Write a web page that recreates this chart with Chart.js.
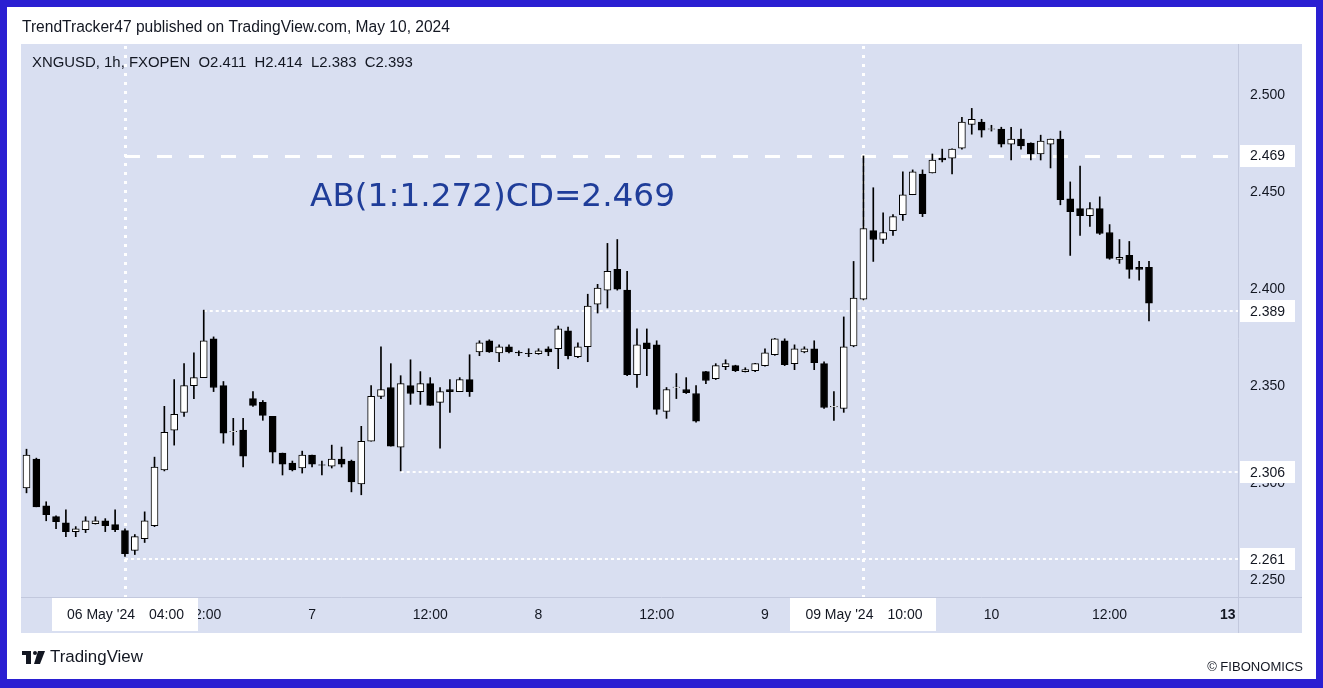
<!DOCTYPE html>
<html>
<head>
<meta charset="utf-8">
<title>XNGUSD 1h</title>
<script src="https://cdn.jsdelivr.net/npm/chart.js@4.4.1/dist/chart.umd.min.js"></script>
<style>
  html, body { margin: 0; padding: 0; background: #2a1fd2; }
  #wrap { width: 1323px; height: 688px; }
</style>
</head>
<body>
<div id="wrap"><canvas id="chart" width="1323" height="688"></canvas></div>
<script>
// hourly candles (index 0 = first visible bar)
var opens = [
  2.2976, 2.3125, 2.2884, 2.2828, 2.2797, 2.2751, 2.2761, 2.2792, 2.2807, 2.2787,
  2.2756, 2.2654, 2.2715, 2.2782, 2.3069, 2.3274, 2.3366, 2.3504, 2.3545, 2.3745,
  2.3504, 2.3266, 2.3274, 2.3437, 2.3417, 2.3345, 2.3156, 2.3105, 2.3079, 2.3146,
  2.3096, 2.3089, 2.3125, 2.3115, 2.2997, 2.3217, 2.3448, 2.3494, 2.3186, 2.3504,
  2.3473, 2.3514, 2.3417, 2.3484, 2.3473, 2.3535, 2.3678, 2.3735, 2.3673, 2.3704,
  2.3675, 2.3670, 2.3668, 2.3694, 2.3694, 2.3786, 2.3653, 2.3704, 2.3924, 2.3996,
  2.4103, 2.3996, 2.3560, 2.3724, 2.3714, 2.3371, 2.3494, 2.3484, 2.3463, 2.3576,
  2.3540, 2.3601, 2.3607, 2.3576, 2.3581, 2.3607, 2.3663, 2.3735, 2.3617, 2.3678,
  2.3694, 2.3617, 2.3394, 2.3386, 2.3709, 2.3950, 2.4303, 2.4257, 2.4303, 2.4385,
  2.4488, 2.4595, 2.4600, 2.4677, 2.4677, 2.4728, 2.4851, 2.4862, 2.4826, 2.4826,
  2.4749, 2.4775, 2.4754, 2.4698, 2.4749, 2.4775, 2.4467, 2.4416, 2.4380, 2.4416,
  2.4293, 2.4155, 2.4175, 2.4113, 2.4114
];
var highs = [
  2.3176, 2.3130, 2.2905, 2.2833, 2.2864, 2.2777, 2.2828, 2.2828, 2.2818, 2.2864,
  2.2766, 2.2736, 2.2853, 2.3135, 2.3397, 2.3535, 2.3617, 2.3673, 2.3893, 2.3755,
  2.3525, 2.3335, 2.3335, 2.3473, 2.3427, 2.3345, 2.3156, 2.3115, 2.3166, 2.3146,
  2.3115, 2.3197, 2.3187, 2.3120, 2.3294, 2.3504, 2.3704, 2.3617, 2.3555, 2.3637,
  2.3576, 2.3545, 2.3494, 2.3535, 2.3545, 2.3663, 2.3735, 2.3740, 2.3714, 2.3714,
  2.3683, 2.3694, 2.3694, 2.3704, 2.3811, 2.3806, 2.3724, 2.3975, 2.4026, 2.4237,
  2.4257, 2.4093, 2.3796, 2.3796, 2.3735, 2.3494, 2.3566, 2.3545, 2.3504, 2.3578,
  2.3617, 2.3637, 2.3609, 2.3596, 2.3619, 2.3694, 2.3747, 2.3745, 2.3714, 2.3704,
  2.3735, 2.3627, 2.3473, 2.3858, 2.4144, 2.4688, 2.4524, 2.4395, 2.4385, 2.4606,
  2.4616, 2.4616, 2.4698, 2.4723, 2.4725, 2.4887, 2.4933, 2.4877, 2.4846, 2.4836,
  2.4836, 2.4826, 2.4756, 2.4795, 2.4775, 2.4816, 2.4554, 2.4636, 2.4447, 2.4477,
  2.4334, 2.4257, 2.4247, 2.4144, 2.4144
];
var lows = [
  2.2951, 2.2879, 2.2807, 2.2766, 2.2725, 2.2725, 2.2746, 2.2790, 2.2751, 2.2751,
  2.2623, 2.2633, 2.2695, 2.2777, 2.3064, 2.3197, 2.3345, 2.3437, 2.3545, 2.3473,
  2.3207, 2.3197, 2.3084, 2.3397, 2.3325, 2.3105, 2.3043, 2.3064, 2.3053, 2.3084,
  2.3043, 2.3079, 2.3084, 2.2956, 2.2941, 2.3217, 2.3437, 2.3192, 2.3064, 2.3407,
  2.3407, 2.3402, 2.3181, 2.3366, 2.3473, 2.3448, 2.3658, 2.3675, 2.3627, 2.3673,
  2.3658, 2.3653, 2.3665, 2.3658, 2.3591, 2.3642, 2.3648, 2.3627, 2.3878, 2.3904,
  2.3996, 2.3555, 2.3494, 2.3555, 2.3356, 2.3335, 2.3437, 2.3463, 2.3315, 2.3514,
  2.3535, 2.3586, 2.3576, 2.3574, 2.3576, 2.3604, 2.3660, 2.3607, 2.3586, 2.3673,
  2.3586, 2.3386, 2.3325, 2.3366, 2.3704, 2.3945, 2.4144, 2.4237, 2.4278, 2.4355,
  2.4488, 2.4375, 2.4600, 2.4657, 2.4595, 2.4723, 2.4800, 2.4785, 2.4816, 2.4734,
  2.4667, 2.4723, 2.4667, 2.4667, 2.4626, 2.4436, 2.4175, 2.4278, 2.4324, 2.4283,
  2.4155, 2.4134, 2.4057, 2.4047, 2.3837
];
var closes = [
  2.3146, 2.2879, 2.2838, 2.2802, 2.2751, 2.2766, 2.2807, 2.2807, 2.2782, 2.2761,
  2.2638, 2.2725, 2.2807, 2.3084, 2.3263, 2.3356, 2.3504, 2.3545, 2.3735, 2.3494,
  2.3258, 2.3268, 2.3140, 2.3402, 2.3350, 2.3161, 2.3099, 2.3069, 2.3146, 2.3099,
  2.3094, 2.3125, 2.3099, 2.3007, 2.3217, 2.3448, 2.3484, 2.3192, 2.3514, 2.3463,
  2.3514, 2.3402, 2.3473, 2.3473, 2.3535, 2.3473, 2.3724, 2.3678, 2.3704, 2.3678,
  2.3673, 2.3668, 2.3683, 2.3678, 2.3796, 2.3658, 2.3704, 2.3914, 2.4006, 2.4093,
  2.4001, 2.3560, 2.3714, 2.3694, 2.3381, 2.3484, 2.3496, 2.3468, 2.3320, 2.3530,
  2.3607, 2.3617, 2.3581, 2.3586, 2.3617, 2.3673, 2.3745, 2.3612, 2.3694, 2.3694,
  2.3622, 2.3391, 2.3397, 2.3704, 2.3955, 2.4314, 2.4257, 2.4293, 2.4375, 2.4488,
  2.4606, 2.4390, 2.4667, 2.4667, 2.4723, 2.4862, 2.4877, 2.4821, 2.4828, 2.4749,
  2.4775, 2.4739, 2.4698, 2.4764, 2.4775, 2.4462, 2.4401, 2.4380, 2.4416, 2.4288,
  2.4160, 2.4165, 2.4103, 2.4103, 2.3929
];

var yTicks = [2.25, 2.30, 2.35, 2.40, 2.45, 2.50];
var xTickIdx = [18, 29, 41, 52, 64, 75, 98, 110, 122];
var xTickText = ['12:00', '7', '12:00', '8', '12:00', '9', '10', '12:00', '13'];
var markIdx = [10, 85];
var markDay = ["06 May '24", "09 May '24"];
var markTime = ['04:00', '10:00'];

// drawn levels: value and the bar where the line starts
var levels = [2.469, 2.389, 2.306, 2.261];
var levelFrom = [10, 18, 38, 10];
var levelDashed = [true, false, false, false];
var projectionText = 'AB(1:1.272)CD=2.469';

var wickData = [], bodyData = [], bodyFill = [];
for (var i = 0; i < opens.length; i++) {
  wickData.push({ x: i, y: [lows[i], highs[i]] });
  bodyData.push({ x: i, y: [Math.min(opens[i], closes[i]), Math.max(opens[i], closes[i])] });
  bodyFill.push(closes[i] >= opens[i] ? '#ffffff' : '#000000');
}

var INK = '#131722';
var PANEL = '#d9dff1';

function fitFont(ctx, text, width, weight, family) {
  ctx.font = weight + ' 20px ' + family;
  var s = 20 * width / ctx.measureText(text).width;
  ctx.font = weight + ' ' + s.toFixed(2) + 'px ' + family;
}

var decor = {
  id: 'decor',
  beforeDraw: function(chart) {
    var ctx = chart.ctx;
    ctx.save();
    ctx.fillStyle = '#2a1fd2';
    ctx.fillRect(0, 0, 1323, 688);
    ctx.fillStyle = '#ffffff';
    ctx.fillRect(7, 7, 1309, 672);
    ctx.fillStyle = PANEL;
    ctx.fillRect(21, 44, 1281, 589);

    // separators of price and time axes
    ctx.strokeStyle = '#c2c8dd';
    ctx.lineWidth = 1;
    ctx.beginPath();
    ctx.moveTo(1238.5, 44); ctx.lineTo(1238.5, 633);
    ctx.moveTo(21, 597.5); ctx.lineTo(1302, 597.5);
    ctx.stroke();

    ctx.fillStyle = INK;
    ctx.textBaseline = 'middle';
    ctx.textAlign = 'left';
    fitFont(ctx, 'TrendTracker47 published on TradingView.com, May 10, 2024', 428, 'normal', '"Liberation Sans", Arial, sans-serif');
    ctx.fillText('TrendTracker47 published on TradingView.com, May 10, 2024', 22, 28);

    fitFont(ctx, 'XNGUSD, 1h, FXOPEN  O2.411  H2.414  L2.383  C2.393', 381, 'normal', '"Liberation Sans", Arial, sans-serif');
    ctx.fillText('XNGUSD, 1h, FXOPEN  O2.411  H2.414  L2.383  C2.393', 32, 63);

    // TradingView mark
    ctx.fillRect(22, 651, 9, 4);
    ctx.fillRect(26, 651, 5, 13);
    ctx.beginPath();
    ctx.arc(35, 653, 2, 0, Math.PI * 2);
    ctx.fill();
    ctx.beginPath();
    ctx.moveTo(38, 651); ctx.lineTo(45, 651); ctx.lineTo(40, 664); ctx.lineTo(34, 664);
    ctx.closePath();
    ctx.fill();
    fitFont(ctx, 'TradingView', 93, '500', '"Liberation Sans", Arial, sans-serif');
    ctx.fillText('TradingView', 50, 657);

    ctx.textAlign = 'right';
    fitFont(ctx, '\u00a9 FIBONOMICS', 96, 'normal', '"Liberation Sans", Arial, sans-serif');
    ctx.fillText('\u00a9 FIBONOMICS', 1303, 667);
    ctx.restore();
  },
  beforeDatasetsDraw: function(chart) {
    var ctx = chart.ctx, xs = chart.scales.x, ys = chart.scales.y, area = chart.chartArea;
    ctx.save();
    ctx.beginPath();
    ctx.rect(area.left, area.top, area.right - area.left, area.bottom - area.top);
    ctx.clip();
    ctx.strokeStyle = '#ffffff';

    // vertical markers
    ctx.lineWidth = 3;
    ctx.setLineDash([3, 6]);
    markIdx.forEach(function(m) {
      var x = Math.round(xs.getPixelForValue(m)) + 0.5;
      ctx.beginPath();
      ctx.moveTo(x, area.top + 2);
      ctx.lineTo(x, area.bottom);
      ctx.stroke();
    });

    levels.forEach(function(v, k) {
      var y = Math.round(ys.getPixelForValue(v));
      var x0 = xs.getPixelForValue(levelFrom[k]);
      if (levelDashed[k]) {
        ctx.lineWidth = 3;
        ctx.setLineDash([15, 17]);
        y += 0.5;
      } else {
        ctx.lineWidth = 2;
        ctx.setLineDash([3, 3]);
      }
      ctx.beginPath();
      ctx.moveTo(x0, y);
      ctx.lineTo(area.right, y);
      ctx.stroke();
    });
    ctx.restore();
  },
  afterDraw: function(chart) {
    var ctx = chart.ctx, xs = chart.scales.x, ys = chart.scales.y;
    ctx.save();

    // projection label
    ctx.fillStyle = '#1f3d99';
    ctx.textAlign = 'left';
    ctx.textBaseline = 'alphabetic';
    fitFont(ctx, projectionText, 365, 'normal', '"DejaVu Sans", Verdana, sans-serif');
    ctx.fillText(projectionText, 310, 206);

    // price tags on the right axis
    ctx.textBaseline = 'middle';
    ctx.font = '14px "Liberation Sans", Arial, sans-serif';
    levels.forEach(function(v) {
      var y = ys.getPixelForValue(v);
      ctx.fillStyle = '#ffffff';
      ctx.fillRect(1240, Math.round(y) - 11, 55, 22);
      ctx.fillStyle = INK;
      ctx.fillText(v.toFixed(3), 1250, y + 1);
    });

    // time tags under the vertical markers
    markIdx.forEach(function(m, k) {
      var cx = xs.getPixelForValue(m);
      ctx.fillStyle = '#ffffff';
      ctx.fillRect(Math.round(cx) - 73, 598, 146, 33);
      ctx.fillStyle = INK;
      ctx.textAlign = 'right';
      ctx.fillText(markDay[k], cx + 10, 615);
      ctx.textAlign = 'left';
      ctx.fillText(markTime[k], cx + 24, 615);
    });
    ctx.restore();
  }
};

new Chart(document.getElementById('chart').getContext('2d'), {
  type: 'bar',
  data: {
    datasets: [
      {
        label: 'body',
        data: bodyData,
        backgroundColor: bodyFill,
        borderColor: '#000000',
        borderWidth: 1,
        borderSkipped: false,
        barThickness: 7,
        grouped: false,
        order: 0
      },
      {
        label: 'wick',
        data: wickData,
        backgroundColor: '#000000',
        borderWidth: 0,
        barThickness: 1,
        grouped: false,
        order: 1
      }
    ]
  },
  options: {
    responsive: false,
    animation: false,
    devicePixelRatio: 1,
    layout: { padding: { left: 21, top: 44, right: 21, bottom: 55 } },
    plugins: { legend: { display: false }, tooltip: { enabled: false } },
    scales: {
      x: {
        type: 'linear',
        offset: false,
        bounds: 'ticks',
        min: -0.559,
        max: 123.04,
        grid: { display: false, drawTicks: false },
        border: { display: false },
        afterFit: function(s) { s.height = 36; },
        afterBuildTicks: function(s) {
          s.ticks = xTickIdx.map(function(v) { return { value: v }; });
        },
        ticks: {
          autoSkip: false,
          maxRotation: 0,
          padding: 10,
          color: INK,
          font: function(c) {
            var bold = c.tick && xTickText[xTickIdx.indexOf(c.tick.value)] === '13';
            return { family: '"Liberation Sans", Arial, sans-serif', size: 14, weight: bold ? 'bold' : 'normal' };
          },
          callback: function(v) {
            var k = xTickIdx.indexOf(v);
            return k >= 0 ? xTickText[k] : '';
          }
        }
      },
      y: {
        position: 'right',
        min: 2.2414,
        max: 2.5265,
        grid: { display: false, drawTicks: false },
        border: { display: false },
        afterFit: function(s) { s.width = 64; },
        afterBuildTicks: function(s) {
          s.ticks = yTicks.map(function(v) { return { value: v }; });
        },
        ticks: {
          padding: 12,
          color: INK,
          font: { family: '"Liberation Sans", Arial, sans-serif', size: 14 },
          callback: function(v) { return v.toFixed(3); }
        }
      }
    }
  },
  plugins: [decor]
});
</script>
</body>
</html>
